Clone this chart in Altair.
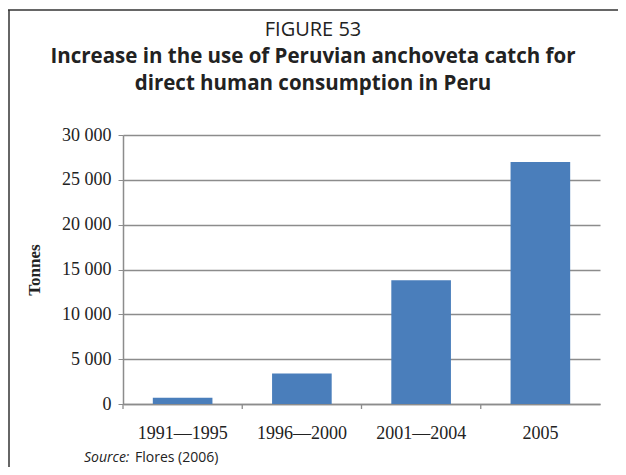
import altair as alt
import pandas as pd

categories = ["1991\u20141995", "1996\u20142000", "2001\u20142004", "2005"]
tonnes = [700, 3400, 13800, 27000]
y_ticks = [0, 5000, 10000, 15000, 20000, 25000, 30000]

heading = ["FIGURE 53"]
title_lines = ["Increase in the use of Peruvian anchoveta catch for",
               "direct human consumption in Peru"]
source_label = ["Source:"]
source_text = ["Flores (2006)"]

df = pd.DataFrame({"period": categories, "tonnes": tonnes})

W, H = 477, 269

bars = alt.Chart(df).mark_bar(color="#4a7ebb", width={"band": 0.5}).encode(
    x=alt.X("period:N", sort=categories,
            scale=alt.Scale(paddingInner=0, paddingOuter=0),
            axis=alt.Axis(title=None, labelAngle=0, ticks=False,
                          domainColor="#8c8c8c", domainWidth=1.5,
                          labelFont="Liberation Serif", labelFontSize=18,
                          labelColor="#222222", labelPadding=20)),
    y=alt.Y("tonnes:Q", scale=alt.Scale(domain=[0, 30000], nice=False),
            axis=alt.Axis(values=y_ticks,
                          labelExpr="replace(format(datum.value, ','), ',', ' ')",
                          grid=True, gridColor="#8c8c8c", gridWidth=1.3,
                          domainColor="#8c8c8c", domainWidth=1.5,
                          tickColor="#8c8c8c", tickSize=5,
                          labelFont="Liberation Serif", labelFontSize=18,
                          labelColor="#222222", labelPadding=7,
                          title="Tonnes", titleFont="Liberation Serif",
                          titleFontSize=17, titleFontWeight="bold",
                          titleColor="#222222", titleAngle=270,
                          titleX=-89, titleY=H / 2, titleAlign="center",
                          titleBaseline="middle")),
)

xticks = alt.Chart(df).mark_rule(color="#8c8c8c", strokeWidth=1.3).encode(
    x=alt.X("period:N", sort=categories, bandPosition=0),
    y=alt.value(H),
    y2=alt.value(H + 5),
)

fig = alt.Chart(pd.DataFrame({"t": heading})).mark_text(
    font="Open Sans", fontSize=20, color="#222222", align="center", baseline="middle"
).encode(text="t:N", x=alt.value(190), y=alt.value(-105))

t1 = alt.Chart(pd.DataFrame({"t": title_lines[:1]})).mark_text(
    font="Open Sans", fontSize=20.5, fontWeight="bold", color="#222222",
    align="center", baseline="middle"
).encode(text="t:N", x=alt.value(190), y=alt.value(-78))

t2 = alt.Chart(pd.DataFrame({"t": title_lines[1:]})).mark_text(
    font="Open Sans", fontSize=20.5, fontWeight="bold", color="#222222",
    align="center", baseline="middle"
).encode(text="t:N", x=alt.value(190), y=alt.value(-51))

src1 = alt.Chart(pd.DataFrame({"t": source_label})).mark_text(
    font="Open Sans", fontSize=14, fontStyle="italic", color="#222222",
    align="left", baseline="middle"
).encode(text="t:N", x=alt.value(-39), y=alt.value(323))

src2 = alt.Chart(pd.DataFrame({"t": source_text})).mark_text(
    font="Open Sans", fontSize=14, color="#222222",
    align="left", baseline="middle"
).encode(text="t:N", x=alt.value(12), y=alt.value(323))

frame_top = alt.Chart(pd.DataFrame({"t": [0]})).mark_rule(
    color="#333333", strokeWidth=1.5
).encode(x=alt.value(-115), x2=alt.value(503), y=alt.value(-125))

frame_left = alt.Chart(pd.DataFrame({"t": [0]})).mark_rule(
    color="#333333", strokeWidth=1.5
).encode(x=alt.value(-114), y=alt.value(-125), y2=alt.value(340))

chart = alt.layer(bars, xticks, fig, t1, t2, src1, src2, frame_top, frame_left).properties(
    width=W, height=H,
    padding={"left": 115, "top": 127, "right": 18, "bottom": 63},
    autosize=alt.AutoSizeParams(type="none"),
    background="white",
).configure_view(stroke=None)

chart.save("out.html", embed_options={"renderer": "svg", "actions": False})
